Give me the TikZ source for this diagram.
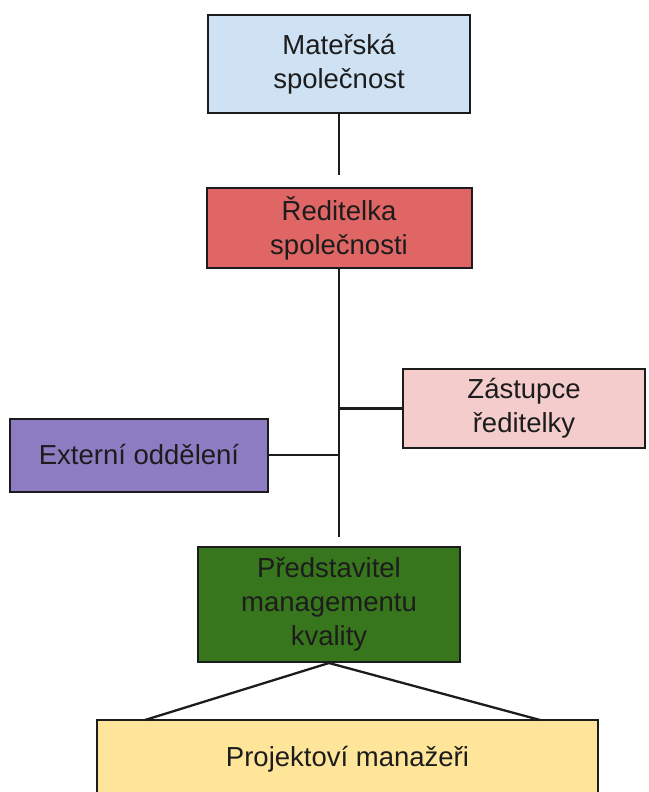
\documentclass[tikz,border=0pt]{standalone}
\usepackage{fontspec}
\setmainfont{Liberation Sans}
\definecolor{matblue}{HTML}{CFE2F3}
\definecolor{redbox}{HTML}{E06666}
\definecolor{pinkbox}{HTML}{F4CCCC}
\definecolor{violetbox}{HTML}{8E7CC3}
\definecolor{greenbox}{HTML}{38761D}
\definecolor{yellowbox}{HTML}{FFE599}
\definecolor{ink}{HTML}{1C1C1C}
\begin{document}
\begin{tikzpicture}[x=1pt, y=-1pt,
  orgbox/.style={draw=ink, line width=2pt, align=center, text=ink, inner sep=0pt,
    font=\fontsize{27.5}{34}\selectfont},
  link/.style={draw=ink, line width=2.3pt}]
  % page frame, same size as the chart
  \useasboundingbox (0,0) rectangle (648,792);
  % the boxes, top to bottom
  \node[orgbox, fill=matblue, minimum width=262pt, minimum height=98pt] (mat) at (339,64) {Mateřská\\společnost};
  \node[orgbox, fill=redbox, minimum width=265pt, minimum height=80pt] (red) at (339,228) {Ředitelka\\společnosti};
  \node[orgbox, fill=pinkbox, minimum width=242pt, minimum height=79pt] (zast) at (524,408.5) {Zástupce\\ředitelky};
  \node[orgbox, fill=violetbox, minimum width=258pt, minimum height=73pt] (ext) at (139,455) {Externí oddělení};
  \node[orgbox, fill=greenbox, minimum width=262pt, minimum height=115pt] (pred) at (329,604.5) {Představitel\\managementu\\kvality};
  \node[orgbox, fill=yellowbox, minimum width=501pt, minimum height=78pt] (proj) at (347.5,759) {Projektoví manažeři};
  % free ends of the connectors
  \coordinate (matend) at (339,175);
  \coordinate (spineend) at (339,537);
  \coordinate (projl) at (145,720);
  \coordinate (projr) at (540,720);
  % connectors
  \draw[link] (mat.south) -- (matend);
  \draw[link] (red.south) -- (spineend);
  \draw[link] (zast.west) -- (zast.west -| spineend);
  \draw[link] (ext.east) -- (ext.east -| spineend);
  \draw[link] (projl) -- (pred.south) -- (projr);
\end{tikzpicture}
\end{document}
